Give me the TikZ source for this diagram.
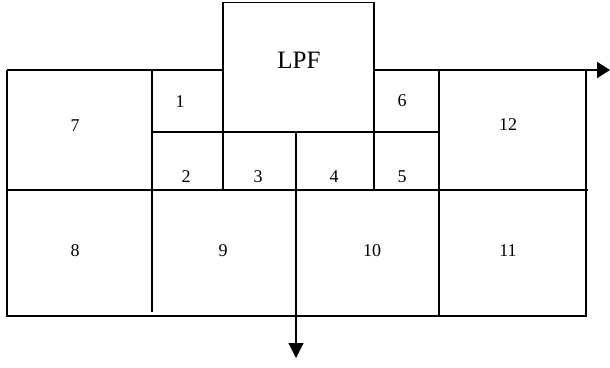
\documentclass[tikz,border=0pt]{standalone}
\usepackage{fontspec}
\setmainfont{Liberation Serif}
\usetikzlibrary{arrows.meta}
\begin{document}
\begin{tikzpicture}[x=1pt,y=-1pt,
  outer/.style={line width=1.6pt},
  inner/.style={line width=1.1pt},
  flow/.style={line width=2pt,-{Triangle[length=13pt,width=16pt]}},
  cell/.style={inner sep=0pt,font=\fontsize{18}{18}\selectfont},
  filter/.style={draw,line width=1.3pt,inner sep=0pt,minimum width=151pt,minimum height=129.5pt}]
\useasboundingbox (0,0) rectangle (610,367);

% filter block
\node[filter] (lpf) at (298.5,67.25) {};
\node[inner sep=0pt,font=\fontsize{25}{25}\selectfont] (lpftext) at (299,60) {LPF};

% signal line into and out of the filter
\coordinate (inL) at (7,70);
\coordinate (outR) at (610,70);
\draw[line width=2pt] (inL) -- (lpf.west |- inL);
\draw[flow] (lpf.east |- outR) -- (outR);

% outer frame
\draw[outer] (inL) -- (7,316) -- (586,316) -- (586,70);

% grid lines
\draw[inner] (152,132) -- (439,132);
\draw[outer] (7,190) -- (588,190);
\draw[inner] (152,70) -- (152,312);
\draw[inner] (223,132) -- (223,191);
\draw[inner] (374,132) -- (374,190);
\draw[outer] (439,70) -- (439,316);

% output arrow leaving the filter downwards
\coordinate (down) at (296,358);
\draw[inner,-{Triangle[length=15pt,width=15pt]}] (296,132) -- (down);

% cell numbers
\node[cell] (c1) at (180,102) {1};
\node[cell] (c2) at (186,177) {2};
\node[cell] (c3) at (258,177) {3};
\node[cell] (c4) at (334,177) {4};
\node[cell] (c5) at (402,177) {5};
\node[cell] (c6) at (402,101) {6};
\node[cell] (c7) at (75,126) {7};
\node[cell] (c8) at (75,251) {8};
\node[cell] (c9) at (223,251) {9};
\node[cell] (c10) at (372,251) {10};
\node[cell] (c11) at (508,251) {11};
\node[cell] (c12) at (508,125) {12};
\end{tikzpicture}
\end{document}
